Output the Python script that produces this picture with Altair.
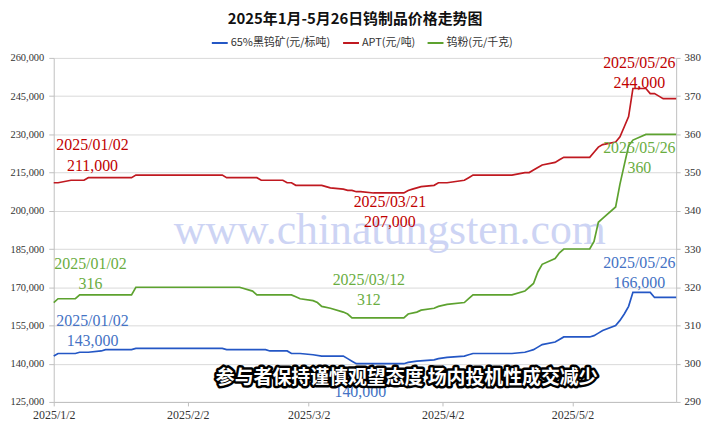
import altair as alt
import pandas as pd

TITLE = "2025年1月-5月26日钨制品价格走势图"
SERIES = ["65%黑钨矿(元/标吨)", "APT(元/吨)", "钨粉(元/千克)"]
LINE_COLORS = ["#2457c5", "#c01920", "#5da22f"]
CAPTION = "参与者保持谨慎观望态度 场内投机性成交减少"
WATERMARK = "www.chinatungsten.com"

X_TICKS = [(2025, 1, 2), (2025, 2, 2), (2025, 3, 2), (2025, 4, 2), (2025, 5, 2)]
X_DOMAIN = [(2025, 1, 2), (2025, 5, 26)]
LEFT_TICKS = list(range(125000, 260001, 15000))
RIGHT_TICKS = list(range(290, 381, 10))

# APT (元/吨), left axis
apt_dates = ["2025-01-02", "2025-01-03", "2025-01-06", "2025-01-09", "2025-01-10", "2025-01-20",
             "2025-01-21", "2025-02-10", "2025-02-11", "2025-02-18", "2025-02-19", "2025-02-24",
             "2025-02-25", "2025-02-26", "2025-02-27", "2025-03-05", "2025-03-06", "2025-03-07",
             "2025-03-10", "2025-03-11", "2025-03-12", "2025-03-13", "2025-03-14", "2025-03-17",
             "2025-03-21", "2025-03-24", "2025-03-25", "2025-03-26", "2025-03-27", "2025-03-28",
             "2025-03-31", "2025-04-01", "2025-04-03", "2025-04-07", "2025-04-08", "2025-04-09",
             "2025-04-18", "2025-04-21", "2025-04-22", "2025-04-23", "2025-04-24", "2025-04-25",
             "2025-04-28", "2025-04-29", "2025-04-30", "2025-05-06", "2025-05-07", "2025-05-08",
             "2025-05-09", "2025-05-12", "2025-05-13", "2025-05-14", "2025-05-15", "2025-05-16",
             "2025-05-19", "2025-05-20", "2025-05-21", "2025-05-22", "2025-05-23", "2025-05-26"]
apt_values = [211000, 211000, 212000, 212000, 213000, 213000,
              214000, 214000, 213000, 213000, 212000, 212000,
              211000, 211000, 210000, 210000, 209500, 209000,
              208500, 208000, 208000, 207500, 207500, 207000,
              207000, 207000, 208000, 208500, 209000, 209500,
              210000, 211000, 211000, 212000, 213000, 214000,
              214000, 215000, 215000, 216000, 217000, 218000,
              219000, 220000, 221000, 221000, 223000, 225000,
              226000, 227000, 229000, 233000, 237000, 248000,
              248000, 246000, 246000, 245000, 244000, 244000]

# 65% wolframite concentrate (元/标吨), left axis
ore_dates = ["2025-01-02", "2025-01-03", "2025-01-07", "2025-01-08", "2025-01-10", "2025-01-13",
             "2025-01-14", "2025-01-20", "2025-01-21", "2025-02-10", "2025-02-11", "2025-02-20",
             "2025-02-21", "2025-02-25", "2025-02-26", "2025-02-28", "2025-03-03", "2025-03-05",
             "2025-03-10", "2025-03-11", "2025-03-12", "2025-03-13", "2025-03-24", "2025-03-25",
             "2025-03-27", "2025-03-31", "2025-04-01", "2025-04-03", "2025-04-07", "2025-04-08",
             "2025-04-09", "2025-04-18", "2025-04-21", "2025-04-22", "2025-04-23", "2025-04-24",
             "2025-04-25", "2025-04-28", "2025-04-29", "2025-04-30", "2025-05-06", "2025-05-07",
             "2025-05-08", "2025-05-09", "2025-05-12", "2025-05-13", "2025-05-14", "2025-05-15",
             "2025-05-16", "2025-05-20", "2025-05-21", "2025-05-26"]
ore_values = [143000, 144000, 144000, 144500, 144500, 145000,
              145500, 145500, 146000, 146000, 145500, 145500,
              145000, 145000, 144000, 144000, 143500, 143000,
              143000, 142000, 141000, 140000, 140000, 140500,
              141000, 141500, 142000, 142500, 143000, 143500,
              144000, 144000, 144500, 145000, 145500, 146500,
              147500, 148500, 149500, 150500, 150500, 151000,
              152000, 153000, 155000, 157000, 159500, 162500,
              168000, 168000, 166000, 166000]

# tungsten powder (元/千克), right axis
pow_dates = ["2025-01-02", "2025-01-03", "2025-01-07", "2025-01-08", "2025-01-20", "2025-01-21",
             "2025-02-14", "2025-02-17", "2025-02-18", "2025-02-26", "2025-02-27", "2025-02-28",
             "2025-03-03", "2025-03-04", "2025-03-05", "2025-03-07", "2025-03-10", "2025-03-11",
             "2025-03-12", "2025-03-24", "2025-03-25", "2025-03-27", "2025-03-28", "2025-03-31",
             "2025-04-01", "2025-04-03", "2025-04-07", "2025-04-08", "2025-04-09", "2025-04-18",
             "2025-04-21", "2025-04-22", "2025-04-23", "2025-04-24", "2025-04-25", "2025-04-28",
             "2025-04-29", "2025-04-30", "2025-05-06", "2025-05-07", "2025-05-08", "2025-05-09",
             "2025-05-12", "2025-05-13", "2025-05-14", "2025-05-15", "2025-05-16", "2025-05-19",
             "2025-05-26"]
pow_values = [316, 317, 317, 318, 318, 320,
              320, 319, 318, 318, 317.5, 317,
              316.5, 316, 315, 314.5, 313.5, 313,
              312, 312, 313, 313.5, 314, 314.5,
              315, 315.5, 316, 317, 318, 318,
              319, 320, 321, 324, 326, 327.5,
              329, 330, 330, 332, 337, 338,
              341, 347, 352, 357, 358.5, 360,
              360]

NUM_FONT = "Liberation Serif"
CJK_FONT = "Noto Sans CJK SC"
AXIS_GREY = "#bfbfbf"


def dt(t):
    return alt.DateTime(year=t[0], month=t[1], date=t[2])


def frame(dates, values, name):
    return pd.DataFrame({"date": pd.to_datetime(dates), "value": values, "series": name})


left_df = pd.concat([frame(ore_dates, ore_values, SERIES[0]), frame(apt_dates, apt_values, SERIES[1])])
right_df = frame(pow_dates, pow_values, SERIES[2])

X_ENC = alt.X("date:T", title=None,
              scale=alt.Scale(domain=[dt(X_DOMAIN[0]), dt(X_DOMAIN[1])]),
              axis=alt.Axis(values=[dt(t) for t in X_TICKS], format="%Y/%-m/%-d", formatType="time",
                            grid=False, tickSize=4, labelPadding=4, labelFontSize=12,
                            labelFont=NUM_FONT, labelColor="#333333", domainColor=AXIS_GREY,
                            tickColor=AXIS_GREY, labelFlush=False))
Y_LEFT = alt.Y("value:Q", title=None,
               scale=alt.Scale(domain=[125000, 260000], nice=False, zero=False),
               axis=alt.Axis(orient="left", values=LEFT_TICKS, format=",.0f", grid=True,
                             gridColor="#d9d9d9", tickSize=5, labelPadding=5, labelFontSize=10.5,
                             labelFont=NUM_FONT, labelColor="#333333", domainColor=AXIS_GREY,
                             tickColor=AXIS_GREY))
Y_RIGHT = alt.Y("value:Q", title=None,
                scale=alt.Scale(domain=[290, 380], nice=False, zero=False),
                axis=alt.Axis(orient="right", values=RIGHT_TICKS, format=".0f", grid=False, tickSize=4,
                              labelPadding=4, labelFontSize=11, labelFont=NUM_FONT,
                              labelColor="#333333", domainColor=AXIS_GREY, tickColor=AXIS_GREY))
COLOR = alt.Color("series:N", sort=SERIES,
                  scale=alt.Scale(domain=SERIES, range=LINE_COLORS),
                  legend=alt.Legend(orient="none", legendX=158, legendY=-24, direction="horizontal",
                                    title=None, symbolType="stroke", symbolSize=256,
                                    symbolStrokeWidth=2, labelFont=CJK_FONT, labelFontSize=11,
                                    labelColor="#333333", columnPadding=8, labelOffset=2))


def note(dates, values, i, color, dx, dy_date, dy_val, y_enc, show_date=True):
    v = values[i]
    vlabel = f"{v:,}" if v >= 1000 else f"{v:g}"
    src = pd.DataFrame({"date": pd.to_datetime([dates[i]]), "value": [v],
                        "dlabel": [dates[i].replace("-", "/")], "vlabel": [vlabel]})
    base = alt.Chart(src)
    style = dict(color=color, font=NUM_FONT, fontSize=16, align="center", baseline="middle")
    layers = [base.mark_text(dx=dx, dy=dy_val, **style).encode(x=X_ENC, y=y_enc, text="vlabel:N")]
    if show_date:
        layers.append(base.mark_text(dx=dx, dy=dy_date, **style).encode(x=X_ENC, y=y_enc, text="dlabel:N"))
    return layers


RED_T, BLUE_T, GREEN_T = "#c00000", "#4472c4", "#6aad3f"

left_lines = alt.Chart(left_df).mark_line(strokeWidth=1.7).encode(x=X_ENC, y=Y_LEFT, color=COLOR)
right_line = alt.Chart(right_df).mark_line(strokeWidth=1.7).encode(x=X_ENC, y=Y_RIGHT, color=COLOR)

ore_min = ore_values.index(min(ore_values))
apt_min = apt_dates.index("2025-03-21")
pow_min = pow_values.index(min(pow_values))

left_notes = (note(apt_dates, apt_values, 0, RED_T, 39, -38, -17, Y_LEFT)
              + note(apt_dates, apt_values, apt_min, RED_T, -1, 9, 29, Y_LEFT)
              + note(apt_dates, apt_values, len(apt_values) - 1, RED_T, -37, -36, -16, Y_LEFT)
              + note(ore_dates, ore_values, 0, BLUE_T, 39, -35, -15, Y_LEFT)
              + note(ore_dates, ore_values, ore_min, BLUE_T, 4, 8, 28, Y_LEFT, show_date=False)
              + note(ore_dates, ore_values, len(ore_values) - 1, BLUE_T, -37, -35, -15, Y_LEFT))
right_notes = (note(pow_dates, pow_values, 0, GREEN_T, 37, -39, -19, Y_RIGHT)
               + note(pow_dates, pow_values, pow_min, GREEN_T, 17, -38, -18, Y_RIGHT)
               + note(pow_dates, pow_values, len(pow_values) - 1, GREEN_T, -37, 14, 34, Y_RIGHT))

wm = alt.Chart(pd.DataFrame({"t": [WATERMARK]})).mark_text(
    font=NUM_FONT, fontSize=44, color="#cdd4f4", align="center", baseline="alphabetic"
).encode(x=alt.value(338), y=alt.value(187), text="t:N")

cap_src = alt.Chart(pd.DataFrame({"t": [CAPTION]}))
cap_style = dict(font=CJK_FONT, fontSize=19, fontWeight="bold", align="center", baseline="middle")
cap_back = cap_src.mark_text(stroke="black", strokeWidth=5, strokeJoin="round", fill="black",
                             **cap_style).encode(x=alt.value(355), y=alt.value(322), text="t:N")
cap_front = cap_src.mark_text(fill="white", **cap_style).encode(
    x=alt.value(355), y=alt.value(322), text="t:N")

left = alt.layer(left_lines, *left_notes)
right = alt.layer(right_line, *right_notes)

chart = alt.layer(wm, left, right, cap_back, cap_front).resolve_scale(y="independent").properties(
    width=626, height=346,
    padding={"left": 46, "top": 49, "right": 26, "bottom": 20},
    autosize=alt.AutoSizeParams(type="none"),
    background="white",
    title=alt.TitleParams(TITLE, font=CJK_FONT, fontSize=15, fontWeight="bold", color="#111111",
                          anchor="middle", offset=7, dx=-10),
).configure_view(stroke=None)

chart.save("out.html", embed_options={"renderer": "svg", "actions": False})
